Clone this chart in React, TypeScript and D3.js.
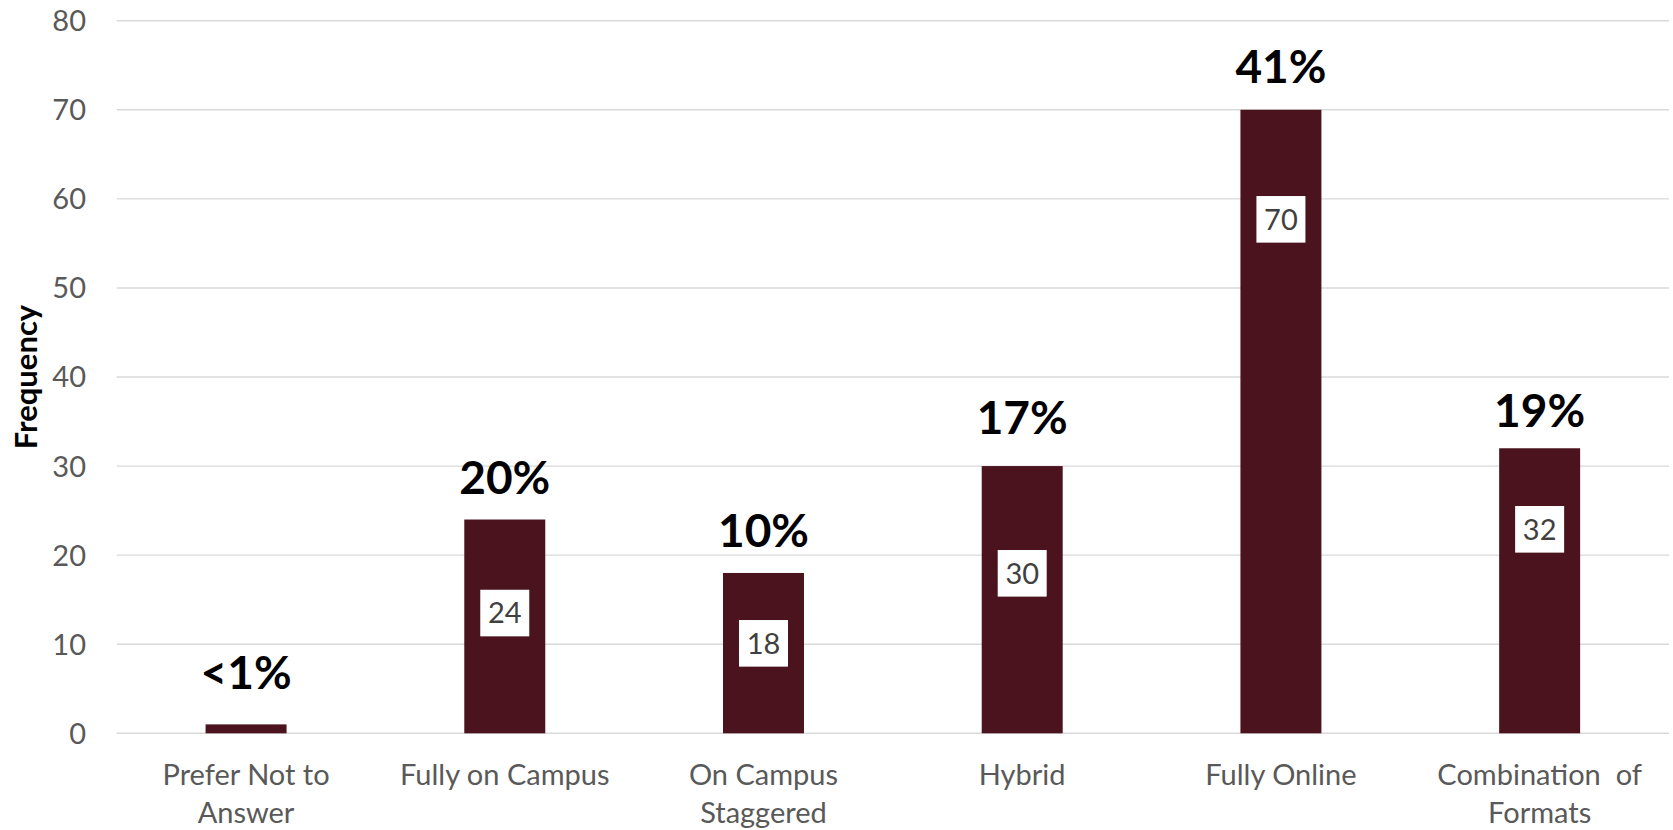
import React from "react";
import * as d3 from "d3";

const categories: string[][] = [
  ["Prefer Not to", "Answer"],
  ["Fully on Campus"],
  ["On Campus", "Staggered"],
  ["Hybrid"],
  ["Fully Online"],
  ["Combination  of", "Formats"],
];
const values: number[] = [1, 24, 18, 30, 70, 32];
const percentLabels: string[] = ["<1%", "20%", "10%", "17%", "41%", "19%"];
// where each annotation sits, in data units (the labels were placed by hand in the original)
const percentLabelAt: number[] = [5.0, 26.9, 20.9, 33.6, 73.0, 34.4];
const valueBoxAt: number[] = [0, 13.5, 10.1, 17.96, 57.7, 22.9];
const yTicks: number[] = [0, 10, 20, 30, 40, 50, 60, 70, 80];
const yLabel = "Frequency";

const W = 1673;
const H = 830;
const M = { left: 116.7, right: 4, top: 20.7, bottom: 96.7 };

export default function App() {
  const keys = categories.map((c) => c.join(" "));
  const x = d3
    .scaleBand<string>()
    .domain(keys)
    .range([M.left, W - M.right])
    .paddingInner(0.687)
    .paddingOuter(0.3435);
  const y = d3.scaleLinear().domain([0, 80]).range([H - M.bottom, M.top]);
  const font = "Lato, 'Open Sans', sans-serif";
  const bw = x.bandwidth();

  return (
    <svg
      width={W}
      height={H}
      style={{ position: "absolute", left: 0, top: 0, display: "block", background: "#fff" }}
      fontFamily={font}
    >
      {yTicks.map((t) => (
        <g key={t}>
          <line x1={M.left} x2={W - M.right} y1={y(t)} y2={y(t)} stroke="#d9d9d9" strokeWidth={1.4} />
          <text x={86} y={y(t)} dy="0.36em" textAnchor="end" fontSize={29} fill="#595959">
            {t}
          </text>
        </g>
      ))}
      <text
        transform={`translate(37, ${(y(0) + y(80)) / 2}) rotate(-90)`}
        textAnchor="middle"
        fontSize={31}
        fontWeight="bold"
        fill="#000"
      >
        {yLabel}
      </text>
      {values.map((v, i) => {
        const k = keys[i];
        const x0 = x(k)!;
        const cx = x0 + bw / 2;
        return (
          <g key={k}>
            <rect x={x0} y={y(v)} width={bw} height={y(0) - y(v)} fill="#4b131e" />
            {v > 5 && (
              <g>
                <rect x={cx - 24.5} y={y(valueBoxAt[i]) - 23.3} width={49} height={46.6} fill="#fff" />
                <text x={cx} y={y(valueBoxAt[i])} dy="0.36em" textAnchor="middle" fontSize={29} fill="#404040">
                  {v}
                </text>
              </g>
            )}
            <text x={cx} y={y(percentLabelAt[i])} textAnchor="middle" fontSize={46} fontWeight="bold" fill="#000">
              {percentLabels[i]}
            </text>
            {categories[i].map((line, j) => (
              <text
                key={j}
                x={cx}
                y={785 + j * 38}
                textAnchor="middle"
                fontSize={29}
                fill="#595959"
                style={{ whiteSpace: "pre" }}
              >
                {line}
              </text>
            ))}
          </g>
        );
      })}
    </svg>
  );
}
